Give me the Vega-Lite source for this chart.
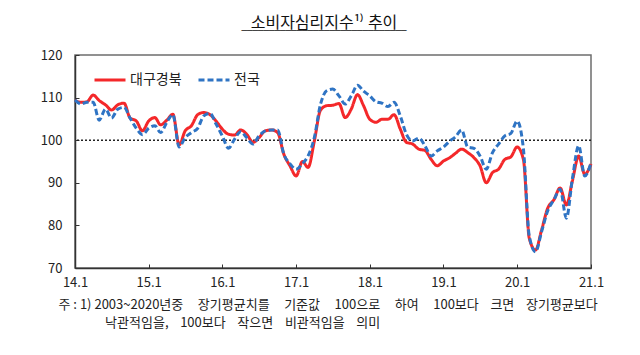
{
  "$schema": "https://vega.github.io/schema/vega-lite/v6.json",
  "width": 516,
  "height": 213,
  "autosize": "none",
  "padding": {"left": 75, "top": 55, "right": 49, "bottom": 87},
  "background": "white",
  "config": {
    "font": "Noto Sans CJK KR",
    "view": {"stroke": "#6e6e6e", "strokeWidth": 1.5},
    "axis": {"grid": false, "domainColor": "#333", "domainWidth": 1.5, "tickColor": "#333", "tickWidth": 1, "labelColor": "#222", "labelFontSize": 13, "labelFont": "Noto Sans CJK KR"}
  },
  "title": {
    "text": "소비자심리지수¹⁾ 추이",
    "subtitle": "______________________________",
    "anchor": "middle",
    "dx": -9,
    "font": "Noto Sans CJK KR",
    "fontSize": 16,
    "fontWeight": "normal",
    "color": "#111",
    "subtitleFont": "DejaVu Sans",
    "subtitleFontSize": 11,
    "subtitleColor": "#111",
    "subtitlePadding": -12,
    "offset": 18
  },
  "datasets": {
    "cs": [
      {"t": "2014-01-01", "대구경북": 109.3, "전국": 109.4},
      {"t": "2014-02-01", "대구경북": 108.9, "전국": 108.5},
      {"t": "2014-03-01", "대구경북": 109.0, "전국": 108.9},
      {"t": "2014-04-01", "대구경북": 110.6, "전국": 108.9},
      {"t": "2014-05-01", "대구경북": 109.3, "전국": 104.7},
      {"t": "2014-06-01", "대구경북": 108.3, "전국": 107.3},
      {"t": "2014-07-01", "대구경북": 107.1, "전국": 105.2},
      {"t": "2014-08-01", "대구경북": 108.3, "전국": 107.3},
      {"t": "2014-09-01", "대구경북": 108.7, "전국": 107.7},
      {"t": "2014-10-01", "대구경북": 105.2, "전국": 105.2},
      {"t": "2014-11-01", "대구경북": 104.5, "전국": 102.8},
      {"t": "2014-12-01", "대구경북": 102.2, "전국": 101.3},
      {"t": "2015-01-01", "대구경북": 104.5, "전국": 102.8},
      {"t": "2015-02-01", "대구경북": 105.3, "전국": 103.4},
      {"t": "2015-03-01", "대구경북": 103.6, "전국": 101.8},
      {"t": "2015-04-01", "대구경북": 104.7, "전국": 104.2},
      {"t": "2015-05-01", "대구경북": 106.1, "전국": 106.0},
      {"t": "2015-06-01", "대구경북": 98.9, "전국": 98.4},
      {"t": "2015-07-01", "대구경북": 102.2, "전국": 100.6},
      {"t": "2015-08-01", "대구경북": 103.4, "전국": 101.8},
      {"t": "2015-09-01", "대구경북": 106.0, "전국": 102.8},
      {"t": "2015-10-01", "대구경북": 106.5, "전국": 105.7},
      {"t": "2015-11-01", "대구경북": 106.0, "전국": 106.3},
      {"t": "2015-12-01", "대구경북": 104.5, "전국": 103.8},
      {"t": "2016-01-01", "대구경북": 102.6, "전국": 101.0},
      {"t": "2016-02-01", "대구경북": 101.4, "전국": 98.1},
      {"t": "2016-03-01", "대구경북": 101.2, "전국": 100.2},
      {"t": "2016-04-01", "대구경북": 102.4, "전국": 102.0},
      {"t": "2016-05-01", "대구경북": 101.4, "전국": 100.6},
      {"t": "2016-06-01", "대구경북": 99.5, "전국": 99.1},
      {"t": "2016-07-01", "대구경북": 100.6, "전국": 101.0},
      {"t": "2016-08-01", "대구경북": 102.2, "전국": 102.2},
      {"t": "2016-09-01", "대구경북": 102.4, "전국": 102.4},
      {"t": "2016-10-01", "대구경북": 101.8, "전국": 102.4},
      {"t": "2016-11-01", "대구경북": 96.7, "전국": 96.7},
      {"t": "2016-12-01", "대구경북": 94.0, "전국": 94.5},
      {"t": "2017-01-01", "대구경북": 91.6, "전국": 93.2},
      {"t": "2017-02-01", "대구경북": 95.0, "전국": 94.5},
      {"t": "2017-03-01", "대구경북": 93.6, "전국": 96.3},
      {"t": "2017-04-01", "대구경북": 99.8, "전국": 100.6},
      {"t": "2017-05-01", "대구경북": 107.0, "전국": 108.3},
      {"t": "2017-06-01", "대구경북": 108.1, "전국": 111.6},
      {"t": "2017-07-01", "대구경북": 108.2, "전국": 112.0},
      {"t": "2017-08-01", "대구경북": 108.6, "전국": 110.4},
      {"t": "2017-09-01", "대구경북": 105.3, "전국": 108.5},
      {"t": "2017-10-01", "대구경북": 107.3, "전국": 110.4},
      {"t": "2017-11-01", "대구경북": 110.7, "전국": 112.9},
      {"t": "2017-12-01", "대구경북": 108.1, "전국": 111.5},
      {"t": "2018-01-01", "대구경북": 104.9, "전국": 110.4},
      {"t": "2018-02-01", "대구경북": 104.2, "전국": 109.0},
      {"t": "2018-03-01", "대구경북": 104.9, "전국": 108.7},
      {"t": "2018-04-01", "대구경북": 104.9, "전국": 107.9},
      {"t": "2018-05-01", "대구경북": 106.0, "전국": 108.9},
      {"t": "2018-06-01", "대구경북": 102.6, "전국": 105.7},
      {"t": "2018-07-01", "대구경북": 99.5, "전국": 101.4},
      {"t": "2018-08-01", "대구경북": 99.1, "전국": 99.8},
      {"t": "2018-09-01", "대구경북": 97.9, "전국": 100.5},
      {"t": "2018-10-01", "대구경북": 97.6, "전국": 98.7},
      {"t": "2018-11-01", "대구경북": 95.5, "전국": 96.3},
      {"t": "2018-12-01", "대구경북": 94.0, "전국": 97.5},
      {"t": "2019-01-01", "대구경북": 95.1, "전국": 98.4},
      {"t": "2019-02-01", "대구경북": 95.9, "전국": 99.8},
      {"t": "2019-03-01", "대구경북": 96.9, "전국": 100.8},
      {"t": "2019-04-01", "대구경북": 97.9, "전국": 102.4},
      {"t": "2019-05-01", "대구경북": 97.1, "전국": 98.4},
      {"t": "2019-06-01", "대구경북": 95.9, "전국": 98.1},
      {"t": "2019-07-01", "대구경북": 94.0, "전국": 96.3},
      {"t": "2019-08-01", "대구경북": 90.0, "전국": 93.2},
      {"t": "2019-09-01", "대구경북": 92.4, "전국": 97.1},
      {"t": "2019-10-01", "대구경북": 93.2, "전국": 99.1},
      {"t": "2019-11-01", "대구경북": 95.5, "전국": 101.0},
      {"t": "2019-12-01", "대구경북": 96.1, "전국": 101.6},
      {"t": "2020-01-01", "대구경북": 98.4, "전국": 104.5},
      {"t": "2020-02-01", "대구경북": 95.5, "전국": 98.0},
      {"t": "2020-03-01", "대구경북": 77.0, "전국": 77.5},
      {"t": "2020-04-01", "대구경북": 74.2, "전국": 73.8},
      {"t": "2020-05-01", "대구경북": 78.9, "전국": 78.5},
      {"t": "2020-06-01", "대구경북": 84.1, "전국": 83.5},
      {"t": "2020-07-01", "대구경북": 86.0, "전국": 86.0},
      {"t": "2020-08-01", "대구경북": 88.8, "전국": 88.5},
      {"t": "2020-09-01", "대구경북": 84.8, "전국": 81.7},
      {"t": "2020-10-01", "대구경북": 90.5, "전국": 91.0},
      {"t": "2020-11-01", "대구경북": 96.3, "전국": 98.7},
      {"t": "2020-12-01", "대구경북": 92.0, "전국": 91.6},
      {"t": "2021-01-01", "대구경북": 94.4, "전국": 94.7}
    ]
  },
  "layer": [
    {
      "data": {"values": [{}]},
      "mark": {"type": "rule", "strokeDash": [2, 2], "color": "#222", "strokeWidth": 1.5},
      "encoding": {"y": {"datum": 100, "type": "quantitative"}}
    },
    {
      "data": {"name": "cs"},
      "transform": [{"fold": ["대구경북", "전국"], "as": ["지역", "값"]}],
      "mark": {"type": "line", "interpolate": "monotone", "strokeWidth": 3},
      "encoding": {
        "x": {
          "field": "t",
          "type": "temporal",
          "scale": {"type": "utc", "nice": false, "domain": [{"year": 2014, "month": 1, "date": 1, "utc": true}, {"year": 2021, "month": 1, "date": 1, "utc": true}]},
          "axis": {
            "values": [
              {"year": 2014, "month": 1, "date": 1, "utc": true},
              {"year": 2015, "month": 1, "date": 1, "utc": true},
              {"year": 2016, "month": 1, "date": 1, "utc": true},
              {"year": 2017, "month": 1, "date": 1, "utc": true},
              {"year": 2018, "month": 1, "date": 1, "utc": true},
              {"year": 2019, "month": 1, "date": 1, "utc": true},
              {"year": 2020, "month": 1, "date": 1, "utc": true},
              {"year": 2021, "month": 1, "date": 1, "utc": true}
            ],
            "labelExpr": "utcFormat(datum.value, '%y.%-m')",
            "tickSize": -4,
            "labelPadding": 12,
            "labelFlush": false,
            "labelOverlap": false,
            "title": ["주 : 1) 2003~2020년중\u00a0\u00a0\u00a0\u00a0\u00a0장기평균치를\u00a0\u00a0\u00a0\u00a0\u00a0기준값\u00a0\u00a0\u00a0\u00a0\u00a0100으로\u00a0\u00a0\u00a0\u00a0\u00a0하여\u00a0\u00a0\u00a0\u00a0\u00a0100보다\u00a0\u00a0\u00a0\u00a0크면\u00a0\u00a0\u00a0\u00a0장기평균보다", "\u200b\u00a0\u00a0\u00a0\u00a0\u00a0\u00a0\u00a0\u00a0\u00a0\u00a0\u00a0\u00a0\u00a0\u00a0\u00a0\u00a0낙관적임을,\u00a0\u00a0\u00a0\u00a0100보다\u00a0\u00a0\u00a0\u00a0작으면\u00a0\u00a0\u00a0\u00a0비관적임을\u00a0\u00a0\u00a0\u00a0의미"],
            "titleAnchor": "start",
            "titleAlign": "left",
            "titleBaseline": "top",
            "titleX": -17,
            "titleY": 30,
            "titleFontSize": 13,
            "titleFontWeight": "normal",
            "titleColor": "#222",
            "titleLineHeight": 18
          }
        },
        "y": {
          "field": "값",
          "type": "quantitative",
          "scale": {"domain": [70, 120], "nice": false, "zero": false},
          "axis": {"values": [70, 80, 90, 100, 110, 120], "tickSize": -4, "labelPadding": 17, "title": null}
        },
        "color": {
          "field": "지역",
          "type": "nominal",
          "scale": {"domain": ["대구경북", "전국"], "range": ["#f4282a", "#2f74c4"]},
          "legend": {
            "title": null,
            "orient": "none",
            "legendX": 18,
            "legendY": 8,
            "direction": "horizontal",
            "symbolType": "stroke",
            "symbolSize": 961,
            "symbolStrokeWidth": 3,
            "labelFontSize": 14,
            "labelColor": "#222",
            "labelOffset": 3,
            "columnPadding": 10,
            "padding": 0
          }
        },
        "strokeDash": {
          "field": "지역",
          "type": "nominal",
          "scale": {"domain": ["대구경북", "전국"], "range": [[1, 0], [6, 3]]},
          "legend": {
            "title": null,
            "orient": "none",
            "legendX": 18,
            "legendY": 8,
            "direction": "horizontal",
            "symbolType": "stroke",
            "symbolSize": 961,
            "symbolStrokeWidth": 3,
            "labelFontSize": 14,
            "labelColor": "#222",
            "labelOffset": 3,
            "columnPadding": 10,
            "padding": 0
          }
        }
      }
    }
  ]
}
